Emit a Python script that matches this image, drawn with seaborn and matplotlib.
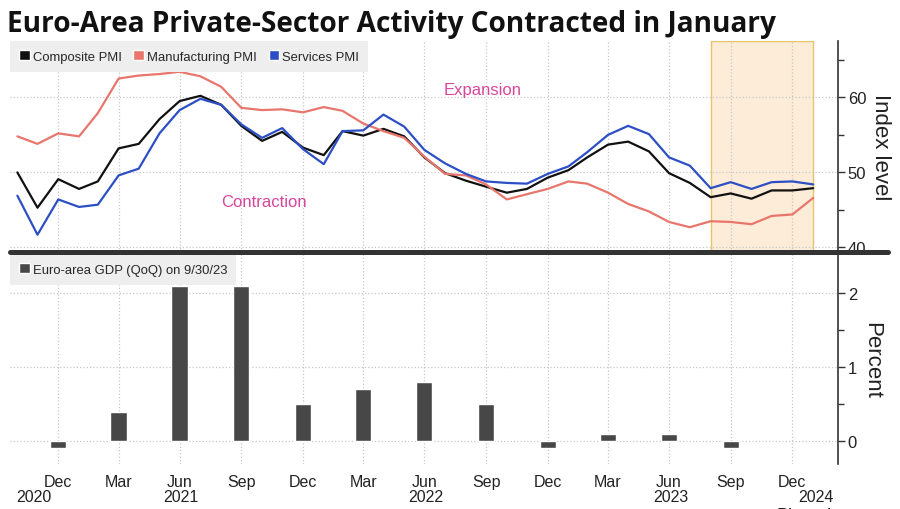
import pandas as pd
import seaborn as sns
import matplotlib.pyplot as plt
import matplotlib.dates as mdates
from matplotlib.patches import Patch
from matplotlib.lines import Line2D
from matplotlib.ticker import FixedLocator

# monthly PMI readings, Oct 2020 .. Jan 2024
months = pd.date_range("2020-10-31", periods=40, freq=pd.offsets.MonthEnd())
composite = [50.0, 45.3, 49.1, 47.8, 48.8, 53.2, 53.8, 57.1, 59.5, 60.2,
             59.0, 56.2, 54.2, 55.4, 53.3, 52.3, 55.5, 54.9, 55.8, 54.8,
             52.0, 49.9, 48.9, 48.1, 47.3, 47.8, 49.3, 50.3, 52.0, 53.7,
             54.1, 52.8, 49.9, 48.6, 46.7, 47.2, 46.5, 47.6, 47.6, 47.9]
manufacturing = [54.8, 53.8, 55.2, 54.8, 57.9, 62.5, 62.9, 63.1, 63.4, 62.8,
                 61.4, 58.6, 58.3, 58.4, 58.0, 58.7, 58.2, 56.5, 55.5, 54.6,
                 52.1, 49.8, 49.6, 48.4, 46.4, 47.1, 47.8, 48.8, 48.5, 47.3,
                 45.8, 44.8, 43.4, 42.7, 43.5, 43.4, 43.1, 44.2, 44.4, 46.6]
services = [46.9, 41.7, 46.4, 45.4, 45.7, 49.6, 50.5, 55.2, 58.3, 59.8,
            59.0, 56.4, 54.6, 55.9, 53.1, 51.1, 55.5, 55.6, 57.7, 56.1,
            53.0, 51.2, 49.8, 48.8, 48.6, 48.5, 49.8, 50.8, 52.7, 55.0,
            56.2, 55.1, 52.0, 50.9, 47.9, 48.7, 47.8, 48.7, 48.8, 48.4]
series_names = ["Composite PMI", "Manufacturing PMI", "Services PMI"]
series_colors = ["#111111", "#e8766d", "#2d4fc6"]

# quarterly GDP growth (QoQ, %)
gdp_quarters = pd.to_datetime(["2020-12-31", "2021-03-31", "2021-06-30", "2021-09-30",
                               "2021-12-31", "2022-03-31", "2022-06-30", "2022-09-30",
                               "2022-12-31", "2023-03-31", "2023-06-30", "2023-09-30"])
gdp_qoq = [-0.1, 0.4, 2.1, 2.1, 0.5, 0.7, 0.8, 0.5, -0.1, 0.1, 0.1, -0.1]

tick_dates = pd.date_range("2020-12-31", periods=13, freq=pd.offsets.QuarterEnd(startingMonth=3))
shade_start, shade_end = pd.Timestamp("2023-08-31"), pd.Timestamp("2024-01-31")
x_left, x_right = pd.Timestamp("2020-10-20"), pd.Timestamp("2024-03-08")

sns.set_style("white")
plt.rcParams["font.family"] = ["Liberation Sans", "DejaVu Sans"]
grid_kw = dict(color="#c8c8c8", linestyle=":", linewidth=0.9)
legend_kw = dict(loc="upper left", bbox_to_anchor=(0, 1), borderaxespad=0,
                 fontsize=9.4, handlelength=0.8, handleheight=0.8, handletextpad=0.25,
                 columnspacing=0.9, borderpad=0.7, frameon=True, fancybox=False,
                 facecolor="#eeeeee", edgecolor="none", framealpha=1)

fig = plt.figure(figsize=(9, 5.1), dpi=100)
ax1 = fig.add_axes([10 / 900, 257 / 510, 828 / 900, 211 / 510])
ax2 = fig.add_axes([10 / 900, 45 / 510, 828 / 900, 210 / 510])

# --- top panel: PMIs
pmi = pd.DataFrame({"date": months, series_names[0]: composite,
                    series_names[1]: manufacturing, series_names[2]: services})
pmi = pmi.melt("date", var_name="series", value_name="value")
ax1.axvspan(shade_start, shade_end, facecolor="#fcecd8", edgecolor="#e6c468",
            linewidth=1.0, zorder=0.3)
sns.lineplot(data=pmi, x="date", y="value", hue="series", hue_order=series_names,
             palette=dict(zip(series_names, series_colors)), linewidth=1.6,
             legend=False, ax=ax1)
ax1.set_xlim(x_left, x_right)
ax1.set_ylim(39.4, 67.5)
ax1.text(pd.Timestamp("2022-09-25"), 61.0, "Expansion", color="#d8469b",
         fontsize=12, ha="center", va="center")
ax1.text(pd.Timestamp("2021-11-03"), 46.1, "Contraction", color="#d8469b",
         fontsize=12, ha="center", va="center")
ax1.legend(handles=[Patch(facecolor=c, label=n) for n, c in zip(series_names, series_colors)],
           ncol=3, **legend_kw)

# --- bottom panel: GDP
gdp = pd.DataFrame({"x": mdates.date2num(gdp_quarters), "gdp": gdp_qoq})
sns.barplot(data=gdp, x="x", y="gdp", native_scale=True, width=0.27, color="#474747",
            saturation=1, errorbar=None, ax=ax2)
ax2.set_xlim(mdates.date2num(x_left), mdates.date2num(x_right))
ax2.set_ylim(-0.31, 2.53)
ax2.legend(handles=[Patch(facecolor="#474747", label="Euro-area GDP (QoQ) on 9/30/23")],
           **legend_kw)

for ax, major, minor, label in [(ax1, [40, 50, 60], [45, 55, 65], "Index level"),
                                 (ax2, [0, 1, 2], [0.5, 1.5], "Percent")]:
    ax.set_axisbelow(True)
    ax.xaxis.set_major_locator(FixedLocator(mdates.date2num(tick_dates)))
    ax.grid(True, **grid_kw)
    for s in ["left", "top", "bottom"]:
        ax.spines[s].set_visible(False)
    ax.spines["right"].set_visible(True)
    ax.spines["right"].set_color("#333333")
    ax.spines["right"].set_linewidth(1.2)
    ax.yaxis.tick_right()
    ax.yaxis.set_label_position("right")
    ax.set_yticks(major)
    ax.set_yticks(minor, minor=True)
    ax.tick_params(axis="y", which="both", direction="out", color="#333333",
                   labelsize=12, pad=2, width=1, labelcolor="#222222")
    ax.tick_params(axis="y", which="major", length=5)
    ax.tick_params(axis="y", which="minor", length=4)
    ax.set_ylabel(label, fontsize=16, rotation=-90, labelpad=18, color="#222222")
    ax.set_xlabel("")

ax1.tick_params(axis="x", length=0, labelbottom=False)
ax2.xaxis.set_major_formatter(mdates.DateFormatter("%b"))
ax2.tick_params(axis="x", length=0, labelsize=11.5, pad=7, labelcolor="#222222")

# year labels centred on each year's visible span
for yr in range(2020, 2025):
    a = max(pd.Timestamp(f"{yr}-01-01"), x_left)
    b = min(pd.Timestamp(f"{yr}-12-31"), x_right)
    mid = a + (b - a) / 2
    ax2.text(mdates.date2num(mid), -0.118, str(yr), transform=ax2.get_xaxis_transform(),
             ha="center", va="top", fontsize=11.5, color="#222222")

# separator between panels
fig.add_artist(Line2D([10 / 900, 888 / 900], [257 / 510, 257 / 510],
                      transform=fig.transFigure, color="#333333", linewidth=3.6))

fig.text(7 / 900, 1 - 32 / 510, "Euro-Area Private-Sector Activity Contracted in January",
         fontsize=20.2, fontweight="bold", family=["Open Sans", "DejaVu Sans"],
         va="baseline", ha="left", color="#111111")
fig.text(777 / 900, 2 / 510, "Bloomberg", fontsize=13, va="top", ha="left",
         color="#222222")

fig.savefig("out.png", dpi=100)
